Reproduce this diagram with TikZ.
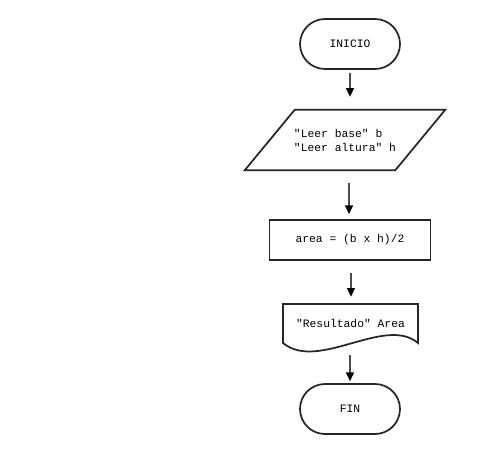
\documentclass[tikz,border=0pt]{standalone}
\usepackage{fontspec}
\setmonofont{Liberation Mono}
\usetikzlibrary{arrows.meta}
\begin{document}
\begin{tikzpicture}[x=0.75pt,y=-0.75pt,
  txt/.style={font=\ttfamily\fontsize{8.5}{10.5}\selectfont},
  outline/.style={draw=black!85,line width=1.3pt},
  terminal/.style={outline,txt,minimum width=75pt,minimum height=37.5pt,rounded corners=18.75pt},
  procbox/.style={outline,txt,minimum width=120.75pt,minimum height=30pt},
  flow/.style={draw=black!70,line width=0.8pt,-{Triangle[width=6pt,length=6.5pt,black]}}]
\useasboundingbox (0,0) rectangle (482,454);

% start / end
\node[terminal] (ini) at (350,44) {INICIO};
\node[terminal] (fin) at (350,409) {FIN};

% input (parallelogram)
\node[txt,minimum width=112.5pt,minimum height=45pt,align=left] (io) at (345,140)
  {"Leer base" b\\"Leer altura" h};
\draw[outline,line join=miter]
  ([xshift=18.75pt]io.north west) -- ([xshift=18.75pt]io.north east)
  -- ([xshift=-18.75pt]io.south east) -- ([xshift=-18.75pt]io.south west) -- cycle;

% process
\node[procbox] (calc) at (350,240) {area = (b x h)/2};

% output (document)
\node[txt,minimum width=101.25pt,minimum height=29.25pt] (doc) at (350.5,323.5) {"Resultado" Area};
\draw[outline] (283,304) -- (418,304) -- (418,343)
  .. controls (385,315) and (318,372) .. (283,343) -- cycle;

% connectors
\draw[flow,shorten <=2.25pt,shorten >=9.75pt] (ini.south) -- (ini.south |- io.north);
\draw[flow,shorten <=9.75pt,shorten >=3.75pt] ([xshift=3pt]io.south) -- ([xshift=3pt]io.south |- calc.north);
\draw[flow,shorten <=9pt,shorten >=5.25pt] ([xshift=0.75pt]calc.south) -- ([xshift=0.75pt]calc.south |- doc.north);
\draw[flow,shorten <=9pt,shorten >=1.5pt] ([xshift=-0.375pt]doc.south) -- ([xshift=-0.375pt]doc.south |- fin.north);
\end{tikzpicture}
\end{document}
